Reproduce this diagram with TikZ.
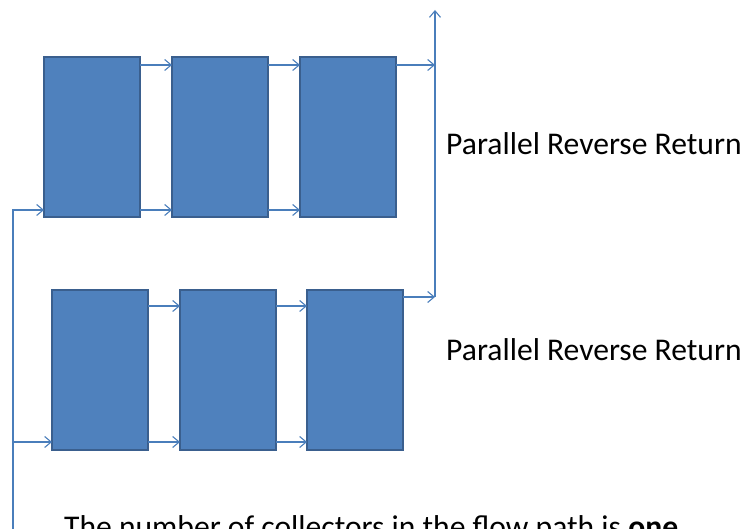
\documentclass[tikz,border=0pt]{standalone}
\usepackage{fontspec}
\setmainfont{Carlito}
\usetikzlibrary{arrows.meta,positioning,calc}
\definecolor{PanelBlue}{HTML}{4F81BD}
\definecolor{PanelEdge}{HTML}{3A5F8E}
\definecolor{PipeBlue}{HTML}{4A7EBB}

\begin{document}
\begin{tikzpicture}[x=1pt, y=-1pt,
  collector/.style={draw=PanelEdge, fill=PanelBlue, line width=2.6pt,
                    minimum width=96pt, minimum height=160pt,
                    inner sep=0pt, outer sep=0pt},
  pipe/.style={-{Straight Barb[length=6.5pt, width=11pt]}, line width=1.1pt,
               color=PipeBlue},
  lbl/.style={anchor=base west, inner sep=0pt, font=\fontsize{31.6}{36}\selectfont}
]
\useasboundingbox (0,0) rectangle (748,529);

% upper bank
\node[collector] (c1) at (92,137) {};
\node[collector] (c2) at (220,137) {};
\node[collector] (c3) at (348,137) {};

% lower bank
\node[collector] (c4) at (100,370) {};
\node[collector] (c5) at (228,370) {};
\node[collector] (c6) at (355,370) {};

% supply and return headers
\coordinate (feed) at (13,540);
\coordinate (ret) at (435,297);
\coordinate (out) at (435,10);

% supply
\draw[pipe] (feed) |- ([yshift=7pt]c1.south west);
\draw[pipe] ([yshift=8pt]c4.south west -| feed) -- ([yshift=8pt]c4.south west);

% upper bank links
\draw[pipe] ([yshift=-8pt]c1.north east) -- ([yshift=-8pt]c2.north west);
\draw[pipe] ([yshift=-8pt]c2.north east) -- ([yshift=-8pt]c3.north west);
\draw[pipe] ([yshift=7pt]c1.south east) -- ([yshift=7pt]c2.south west);
\draw[pipe] ([yshift=7pt]c2.south east) -- ([yshift=7pt]c3.south west);
\draw[pipe] ([yshift=-8pt]c3.north east) -- ([yshift=-8pt]c3.north east -| ret);

% lower bank links
\draw[pipe] ([yshift=-16pt]c4.north east) -- ([yshift=-16pt]c5.north west);
\draw[pipe] ([yshift=-16pt]c5.north east) -- ([yshift=-16pt]c6.north west);
\draw[pipe] ([yshift=8pt]c4.south east) -- ([yshift=8pt]c5.south west);
\draw[pipe] ([yshift=8pt]c5.south east) -- ([yshift=8pt]c6.south west);
\draw[pipe] ([yshift=-7pt]c6.north east) -- (ret);

% return riser
\draw[pipe] (ret) -- (out);

% labels
\node[lbl] (t1) at (446,155) {Parallel Reverse Return};
\node[lbl] (t2) at (446,361) {Parallel Reverse Return};
\node[lbl] (t3) at (64,538) {The number of collectors in the flow path is \textbf{one}};

\end{tikzpicture}
\end{document}
